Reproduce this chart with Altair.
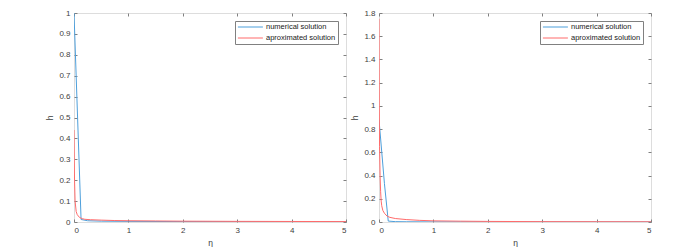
import altair as alt
import pandas as pd

series_names = ["numerical solution", "aproximated solution"]
series_colors = ["#4d9fdb", "#ff6b6b"]

x_ticks = [0, 1, 2, 3, 4, 5]
y_ticks_left = [0, 0.1, 0.2, 0.3, 0.4, 0.5, 0.6, 0.7, 0.8, 0.9, 1]
y_ticks_right = [0, 0.2, 0.4, 0.6, 0.8, 1, 1.2, 1.4, 1.6, 1.8]

# left panel
eta_num_L = [0, 0.13, 0.25, 0.5, 1, 2, 3, 4, 5]
h_num_L = [1.0, 0.012, 0.006, 0.004, 0.003, 0.002, 0.0015, 0.001, 0.001]
eta_apx_L = [0, 0.005, 0.01, 0.02, 0.04, 0.06, 0.1, 0.15, 0.2, 0.3, 0.5, 0.75, 1, 1.5, 2, 3, 4, 5]
h_apx_L = [0.44, 0.3, 0.2, 0.1, 0.05, 0.035, 0.022, 0.016, 0.013, 0.011, 0.009, 0.007, 0.006, 0.005, 0.004, 0.003, 0.0025, 0.002]

# right panel
eta_num_R = [0, 0.1, 0.17, 0.3, 0.5, 1, 2, 3, 4, 5]
h_num_R = [0.88, 0.33, 0.008, 0.003, 0.002, 0.001, 0.0008, 0.0006, 0.0005, 0.0005]
eta_apx_R = [0, 0.005, 0.01, 0.02, 0.03, 0.04, 0.05, 0.07, 0.1, 0.15, 0.2, 0.3, 0.5, 0.75, 1, 1.5, 2, 3, 4, 5]
h_apx_R = [1.75, 1.0, 0.65, 0.4, 0.26, 0.18, 0.14, 0.1, 0.075, 0.05, 0.04, 0.03, 0.021, 0.014, 0.01, 0.007, 0.005, 0.003, 0.0025, 0.002]

FONT = "Liberation Sans"
AX = "#808080"
LAB = "#404040"
TS = 3


def make_df(e1, h1, e2, h2):
    return pd.concat([
        pd.DataFrame({"eta": e1, "h": h1, "series": series_names[0]}),
        pd.DataFrame({"eta": e2, "h": h2, "series": series_names[1]}),
    ], ignore_index=True)


def axis_main(values, title, fmt):
    return alt.Axis(values=values, title=title, domain=False, tickSize=TS, offset=-TS,
                    tickColor=AX, labelColor=LAB, labelFont=FONT, labelFontSize=8,
                    titleFont=FONT, titleFontSize=8.5, titleFontWeight="normal", titleColor=LAB,
                    labelPadding=4, titlePadding=4, grid=False, format=fmt)


def axis_frame(values, orient):
    return alt.Axis(values=values, title=None, labels=False, domain=False, tickSize=TS,
                    offset=-TS, tickColor=AX, orient=orient, grid=False)


def panel(df, ymax, yticks):
    xs = alt.Scale(domain=[0, 5], nice=False, zero=False)
    ys = alt.Scale(domain=[0, ymax], nice=False, zero=False)
    lines = alt.Chart(df).mark_line(strokeWidth=1, clip=True).encode(
        x=alt.X("eta:Q", scale=xs, axis=axis_main(x_ticks, "η", "d")),
        y=alt.Y("h:Q", scale=ys, axis=axis_main(yticks, "h", "~g")),
        color=alt.Color("series:N",
                        scale=alt.Scale(domain=series_names, range=series_colors),
                        sort=series_names,
                        legend=alt.Legend(title=None, orient="top-right", offset=8,
                                          fillColor="white", strokeColor=AX, padding=2,
                                          symbolType="M-0.886,0H6.257", symbolSize=49,
                                          symbolStrokeWidth=1, labelOffset=21,
                                          labelFont=FONT, labelFontSize=7.5, labelColor="#202020",
                                          rowPadding=3, cornerRadius=0)),
        order=alt.Order("eta:Q"),
    )
    frame = alt.Chart(df).mark_line(strokeOpacity=0).encode(
        x=alt.X("eta:Q", scale=xs, axis=axis_frame(x_ticks, "top")),
        y=alt.Y("h:Q", scale=ys, axis=axis_frame(yticks, "right")),
        detail="series:N",
    )
    return alt.layer(lines, frame).resolve_axis(x="independent", y="independent").properties(
        width=272, height=209)


left = panel(make_df(eta_num_L, h_num_L, eta_apx_L, h_apx_L), 1, y_ticks_left)
right = panel(make_df(eta_num_R, h_num_R, eta_apx_R, h_apx_R), 1.8, y_ticks_right)

chart = alt.hconcat(left, right, spacing=3).resolve_scale(color="independent").resolve_legend(
    color="independent").properties(
    padding={"left": 37, "top": 0, "right": 0, "bottom": 0}
).configure_view(stroke=AX, strokeWidth=1).configure(background="white")

chart.save("out.html", embed_options={"renderer": "svg", "actions": False})
